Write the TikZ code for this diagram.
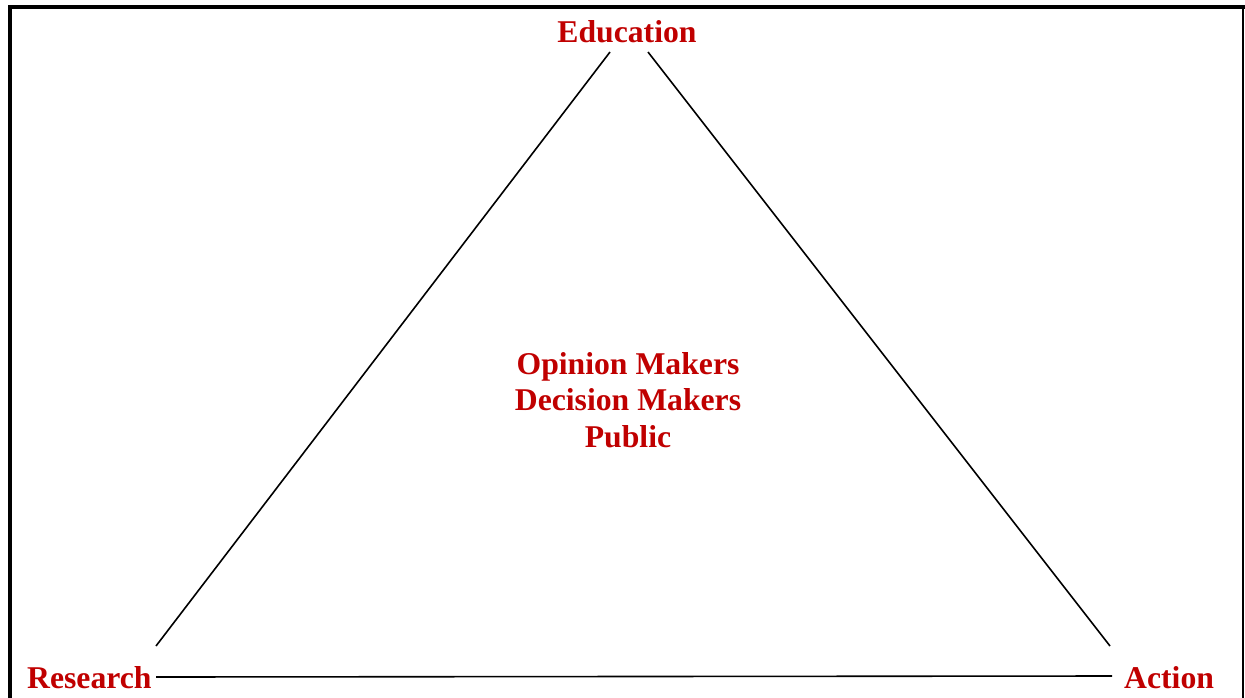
\documentclass[tikz,border=0pt]{standalone}
\usepackage{fontspec}
\setmainfont{Liberation Serif}
\definecolor{labelred}{RGB}{192,0,0}
\begin{document}
\begin{tikzpicture}[x=1pt,y=-1pt,
    label/.style={text=labelred,font=\fontsize{31.7}{36.5}\selectfont\bfseries,inner sep=0pt},
    edge/.style={line width=1.6pt,black},
    frame/.style={black,line cap=rect}]
  \useasboundingbox (0,0) rectangle (1245,697);
  % outer frame (open at the bottom)
  \draw[frame,line width=4pt] (10,697) -- (10,7) -- (1245,7);
  \draw[frame,line width=2pt] (1243,9) -- (1243,697);

  % corner labels
  \node[label,anchor=base] (edu) at (627,42) {Education};
  \node[label,anchor=base west] (res) at (27,688) {Research};
  \node[label,anchor=base west] (act) at (1124,688) {Action};

  % centre text (base anchor sits on the last line)
  \node[label,align=center,anchor=base] (mid) at (628,447)
    {Opinion Makers\\Decision Makers\\Public};

  % triangle end points
  \coordinate (topL) at (610,52);
  \coordinate (topR) at (648,52);
  \coordinate (botL) at (156,646);
  \coordinate (botR) at (1110,646);
  \coordinate (baseL) at (156,677);
  \coordinate (baseR) at (1112,676);

  \draw[edge] (botL) -- (topL);
  \draw[edge] (topR) -- (botR);
  \draw[edge] (baseL) -- (baseR);
\end{tikzpicture}
\end{document}
